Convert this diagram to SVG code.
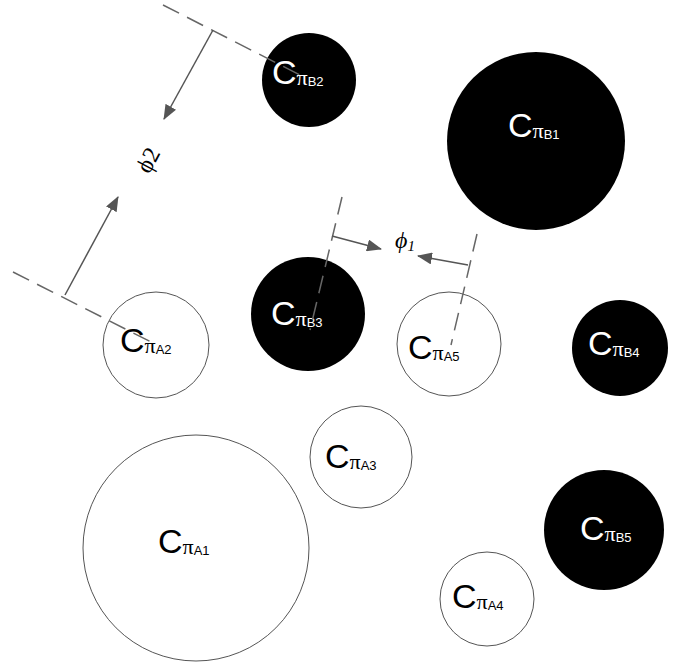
<svg xmlns="http://www.w3.org/2000/svg" width="681" height="668" viewBox="0 0 681 668">
  <style>
    .dark { fill: #000; }
    .light { fill: #fff; stroke: #555; stroke-width: 1; }
    .lbl { font-family: "Liberation Sans", Arial, sans-serif; }
    .lbl-dark { fill: #fff; }
    .lbl-light { fill: #000; }
    .c { font-size: 34px; }
    .p { font-size: 22px; font-family: "Liberation Serif", "Times New Roman", serif; }
    .s { font-size: 13px; }
    .dash { stroke: #666; stroke-width: 1.5; stroke-dasharray: 18 9; fill: none; }
    .arr { stroke: #555; stroke-width: 1.5; fill: none; marker-end: url(#head); }
    .phi { font-family: "Liberation Serif", "Times New Roman", serif; fill: #000; }
  </style>
  <defs>
    <marker id="head" markerUnits="userSpaceOnUse" markerWidth="16" markerHeight="12" refX="14" refY="6" orient="auto">
      <path d="M0,0 L15,6 L0,12 Z" fill="#555"/>
    </marker>
  </defs>
  <rect width="681" height="668" fill="#fff"/>

  <!-- black nodes -->
  <g id="B1">
    <circle class="dark" cx="536" cy="141" r="89"/>
    <text class="lbl lbl-dark" x="508" y="137"><tspan class="c">C</tspan><tspan class="p" dy="1">π</tspan><tspan class="s" dy="1">B1</tspan></text>
  </g>
  <g id="B2">
    <circle class="dark" cx="309" cy="80" r="47"/>
    <text class="lbl lbl-dark" x="272" y="84"><tspan class="c">C</tspan><tspan class="p" dy="1">π</tspan><tspan class="s" dy="1">B2</tspan></text>
  </g>
  <g id="B3">
    <circle class="dark" cx="308" cy="314" r="57"/>
    <text class="lbl lbl-dark" x="271" y="325"><tspan class="c">C</tspan><tspan class="p" dy="1">π</tspan><tspan class="s" dy="1">B3</tspan></text>
  </g>
  <g id="B4">
    <circle class="dark" cx="620" cy="348" r="48"/>
    <text class="lbl lbl-dark" x="588" y="355"><tspan class="c">C</tspan><tspan class="p" dy="1">π</tspan><tspan class="s" dy="1">B4</tspan></text>
  </g>
  <g id="B5">
    <circle class="dark" cx="604" cy="530" r="60"/>
    <text class="lbl lbl-dark" x="580" y="540"><tspan class="c">C</tspan><tspan class="p" dy="1">π</tspan><tspan class="s" dy="1">B5</tspan></text>
  </g>

  <!-- white nodes -->
  <g id="A1">
    <circle class="light" cx="196" cy="548" r="113"/>
    <text class="lbl lbl-light" x="158" y="553"><tspan class="c">C</tspan><tspan class="p" dy="1">π</tspan><tspan class="s" dy="1">A1</tspan></text>
  </g>
  <g id="A2">
    <circle class="light" cx="156" cy="345" r="53"/>
    <text class="lbl lbl-light" x="120" y="352"><tspan class="c">C</tspan><tspan class="p" dy="1">π</tspan><tspan class="s" dy="1">A2</tspan></text>
  </g>
  <g id="A3">
    <circle class="light" cx="361" cy="457" r="51"/>
    <text class="lbl lbl-light" x="325" y="468"><tspan class="c">C</tspan><tspan class="p" dy="1">π</tspan><tspan class="s" dy="1">A3</tspan></text>
  </g>
  <g id="A4">
    <circle class="light" cx="487" cy="599" r="47"/>
    <text class="lbl lbl-light" x="452" y="608"><tspan class="c">C</tspan><tspan class="p" dy="1">π</tspan><tspan class="s" dy="1">A4</tspan></text>
  </g>
  <g id="A5">
    <circle class="light" cx="449" cy="344" r="52"/>
    <text class="lbl lbl-light" x="408" y="359"><tspan class="c">C</tspan><tspan class="p" dy="1">π</tspan><tspan class="s" dy="1">A5</tspan></text>
  </g>

  <!-- angle guides and arrows -->
  <g id="connectors">
    <line class="dash" x1="163" y1="5" x2="300" y2="75"/>
    <line class="dash" x1="13" y1="272" x2="153" y2="343"/>
    <line class="arr" x1="213" y1="30" x2="164" y2="119"/>
    <line class="arr" x1="65" y1="295" x2="118" y2="197"/>
    <text class="phi" font-size="24" transform="translate(148,160) rotate(-62)" text-anchor="middle" dominant-baseline="central">ϕ2</text>

    <line class="dash" x1="342" y1="197" x2="310" y2="330"/>
    <line class="dash" x1="477" y1="234" x2="451" y2="345"/>
    <line class="arr" x1="332" y1="236" x2="381" y2="249"/>
    <line class="arr" x1="468" y1="265" x2="418" y2="256"/>
    <text class="phi" font-size="24" font-style="italic" x="395" y="248">ϕ<tspan font-size="15" dy="3">1</tspan></text>
  </g>
</svg>
